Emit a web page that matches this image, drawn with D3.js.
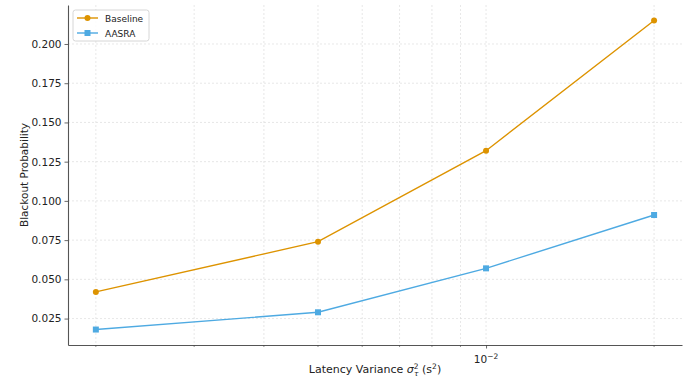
<!DOCTYPE html>
<html>
<head>
<meta charset="utf-8">
<script src="https://cdn.jsdelivr.net/npm/d3@7"></script>
<style>
  body { margin: 0; background: #fff; }
  text { font-family: "DejaVu Sans", sans-serif; }
</style>
</head>
<body>
<svg id="chart" width="691" height="379"></svg>
<script>
// datos
const varianzas = [0.002, 0.005, 0.01, 0.02];
const baseline = [0.042, 0.074, 0.132, 0.215];
const aasra = [0.018, 0.029, 0.057, 0.091];
const yTicks = [0.025, 0.05, 0.075, 0.1, 0.125, 0.15, 0.175, 0.2];
const xMinor = [0.002, 0.003, 0.004, 0.005, 0.006, 0.007, 0.008, 0.009, 0.02];
const series = [
  { name: "Baseline", values: baseline, color: "#dd9300", marker: "circle" },
  { name: "AASRA", values: aasra, color: "#4eaae2", marker: "square" }
];

const svg = d3.select("#chart");
const margin = { left: 68, right: 9, top: 5, bottom: 34 };
const W = 691, H = 379;

const x = d3.scaleLog().domain([0.001783, 0.02244]).range([margin.left, W - margin.right]);
const y = d3.scaleLinear().domain([0.00815, 0.22485]).range([H - margin.bottom, margin.top]);

// rejilla
const grid = svg.append("g");
grid.selectAll("line.gy").data(yTicks).enter().append("line")
  .attr("x1", margin.left).attr("x2", W - margin.right)
  .attr("y1", d => y(d)).attr("y2", d => y(d))
  .attr("stroke", "#ddd").attr("stroke-width", 0.7).attr("stroke-dasharray", "2,2");
grid.selectAll("line.gx").data(xMinor.concat([0.01])).enter().append("line")
  .attr("x1", d => x(d)).attr("x2", d => x(d))
  .attr("y1", margin.top).attr("y2", H - margin.bottom)
  .attr("stroke", "#ddd").attr("stroke-width", 0.7).attr("stroke-dasharray", "2,2");

// ejes
const yAxis = svg.append("g").attr("transform", `translate(${margin.left},0)`)
  .call(d3.axisLeft(y).tickValues(yTicks).tickFormat(d3.format(".3f")).tickSize(3.5).tickSizeOuter(0).tickPadding(3));
const xAxis = svg.append("g").attr("transform", `translate(0,${H - margin.bottom})`)
  .call(d3.axisBottom(x).tickValues([0.01]).tickFormat("").tickSize(3.5).tickSizeOuter(0));
xAxis.append("g").selectAll("line").data(xMinor).enter().append("line")
  .attr("x1", d => x(d)).attr("x2", d => x(d)).attr("y1", 0).attr("y2", 2)
  .attr("stroke", "#444").attr("stroke-width", 0.6);
[yAxis, xAxis].forEach(a => {
  a.select(".domain").attr("stroke", "#555").attr("stroke-width", 1.1);
  a.selectAll(".tick line").attr("stroke", "#444").attr("stroke-width", 0.8);
  a.selectAll(".tick text").attr("fill", "#222").attr("font-size", 10.5)
    .attr("font-family", "DejaVu Sans, sans-serif");
});
const lbl = xAxis.append("text").attr("x", x(0.01)).attr("y", 18)
  .attr("text-anchor", "middle").attr("fill", "#222").attr("font-size", 10.5);
lbl.append("tspan").text("10");
lbl.append("tspan").attr("dy", -4).attr("font-size", 7.5).text("\u22122");

// titulos de ejes
const xl = svg.append("text").attr("x", (margin.left + W - margin.right) / 2).attr("y", 373)
  .attr("text-anchor", "middle").attr("font-size", 11).attr("fill", "#222");
xl.append("tspan").text("Latency Variance ");
xl.append("tspan").attr("font-style", "italic").text("\u03C3");
xl.append("tspan").attr("dy", -4).attr("font-size", 7.5).text("2");
xl.append("tspan").attr("dx", -4.5).attr("dy", 7).attr("font-size", 7.5).attr("font-style", "italic").text("\u03C4");
xl.append("tspan").attr("dy", -3).text(" (s");
xl.append("tspan").attr("dy", -4).attr("font-size", 7.5).text("2");
xl.append("tspan").attr("dy", 4).text(")");

svg.append("text").attr("transform", `translate(28,${(margin.top + H - margin.bottom) / 2}) rotate(-90)`)
  .attr("text-anchor", "middle").attr("font-size", 10.5).attr("fill", "#222").text("Blackout Probability");

// lineas y marcadores
const line = d3.line().x((d, i) => x(varianzas[i])).y(d => y(d));
series.forEach(s => {
  svg.append("path").datum(s.values).attr("d", line)
    .attr("fill", "none").attr("stroke", s.color).attr("stroke-width", 1.4);
  if (s.marker === "circle") {
    svg.selectAll(null).data(s.values).enter().append("circle")
      .attr("cx", (d, i) => x(varianzas[i])).attr("cy", d => y(d)).attr("r", 3)
      .attr("fill", s.color);
  } else {
    svg.selectAll(null).data(s.values).enter().append("rect")
      .attr("x", (d, i) => x(varianzas[i]) - 3).attr("y", d => y(d) - 3)
      .attr("width", 6).attr("height", 6).attr("fill", s.color);
  }
});

// leyenda
const leg = svg.append("g").attr("transform", "translate(73,10)");
leg.append("rect").attr("width", 76).attr("height", 31).attr("rx", 2.5)
  .attr("fill", "#fff").attr("fill-opacity", 0.85).attr("stroke", "#ccc").attr("stroke-width", 0.8);
series.forEach((s, i) => {
  const g = leg.append("g").attr("transform", `translate(4,${8 + i * 15})`);
  g.append("line").attr("x1", 0).attr("x2", 21).attr("stroke", s.color).attr("stroke-width", 1.4);
  if (s.marker === "circle") g.append("circle").attr("cx", 10.5).attr("r", 3).attr("fill", s.color);
  else g.append("rect").attr("x", 7.5).attr("y", -3).attr("width", 6).attr("height", 6).attr("fill", s.color);
  g.append("text").attr("x", 28).attr("y", 3.5).attr("font-size", 9).attr("fill", "#222").text(s.name);
});
</script>
</body>
</html>
